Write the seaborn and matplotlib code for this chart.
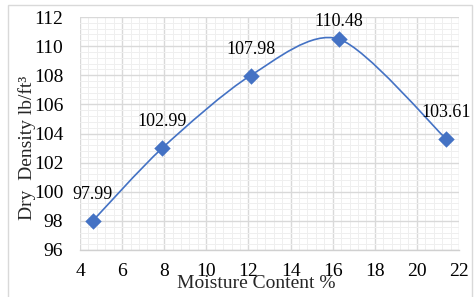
import numpy as np
import pandas as pd
import matplotlib
matplotlib.use("Agg")
import matplotlib.pyplot as plt
import seaborn as sns
from matplotlib.path import Path
from matplotlib.patches import PathPatch, Rectangle
from matplotlib.ticker import MultipleLocator

moisture = [4.6, 7.9, 12.1, 16.3, 21.4]
density = [97.99, 102.99, 107.98, 110.48, 103.61]
labels = ["97.99", "102.99", "107.98", "110.48", "103.61"]

sns.set_style("white")
plt.rcParams['font.family'] = ['Liberation Serif', 'DejaVu Serif']

W, H = 474, 297
fig = plt.figure(figsize=(W / 100, H / 100), dpi=100)
ax = fig.add_axes([80 / W, 1 - 250 / H, (459 - 80) / W, (250 - 17) / H])

df = pd.DataFrame({"x": moisture, "y": density})
blue = "#4472C4"

# smoothed line (Catmull-Rom -> cubic Bezier), like a spreadsheet smoothed line
xs = np.array(moisture, float)
ys = np.array(density, float)
pts = np.column_stack([xs, ys])
n = len(pts)
verts = [pts[0]]
codes = [Path.MOVETO]
t = 0.14
for i in range(n - 1):
    p0 = pts[i - 1] if i > 0 else pts[i]
    p1 = pts[i]
    p2 = pts[i + 1]
    p3 = pts[i + 2] if i + 2 < n else pts[i + 1]
    c1 = p1 + (p2 - p0) * t
    c2 = p2 - (p3 - p1) * t
    verts += [c1, c2, p2]
    codes += [Path.CURVE4] * 3
ax.add_patch(PathPatch(Path(verts, codes), facecolor="none", edgecolor=blue, lw=1.2, zorder=3))

sns.scatterplot(data=df, x="x", y="y", marker="D", s=70, color=blue, edgecolor=blue,
                linewidth=0, ax=ax, zorder=4)

offsets = [19, 19, 19, 13, 19]
for xv, yv, lab, off in zip(moisture, density, labels, offsets):
    ax.annotate(lab, (xv, yv), xytext=(0, off), textcoords="offset points",
                ha="center", va="center", fontsize=13, color="black", zorder=5)

ax.set_xlim(4, 22)
ax.set_ylim(96, 112)
ax.xaxis.set_major_locator(MultipleLocator(2))
ax.yaxis.set_major_locator(MultipleLocator(2))
ax.xaxis.set_minor_locator(MultipleLocator(0.4))
ax.yaxis.set_minor_locator(MultipleLocator(0.4))
ax.grid(which="major", color="#d9d9d9", lw=1.0)
ax.grid(which="minor", color="#efefef", lw=0.7)
ax.set_axisbelow(True)
for s in ["top", "right", "left"]:
    ax.spines[s].set_visible(False)
ax.spines["bottom"].set_color("#d0d0d0")
ax.spines["bottom"].set_linewidth(1.0)
ax.tick_params(axis="both", which="major", labelsize=14, colors="black",
               length=4, color="#d0d0d0", direction="out")
ax.tick_params(axis="both", which="minor", length=0)
ax.tick_params(axis="x", pad=5)
ax.tick_params(axis="y", pad=8)
ax.set_xlabel("")
ax.set_ylabel("")

fig.text(256 / W, 1 - 284 / H, "Moisture Content %", ha="center", va="center", fontsize=14)
fig.text(27 / W, 1 - 148 / H, "Dry  Density lb/ft³", ha="center", va="center",
         rotation=90, fontsize=14)

fig.patches.append(Rectangle((8 / W, -0.05), (472 - 8) / W, 1 - 5 / H + 0.05,
                             transform=fig.transFigure, fill=False, edgecolor="#d9d9d9", lw=1.0))

fig.savefig("out.png", dpi=100)
